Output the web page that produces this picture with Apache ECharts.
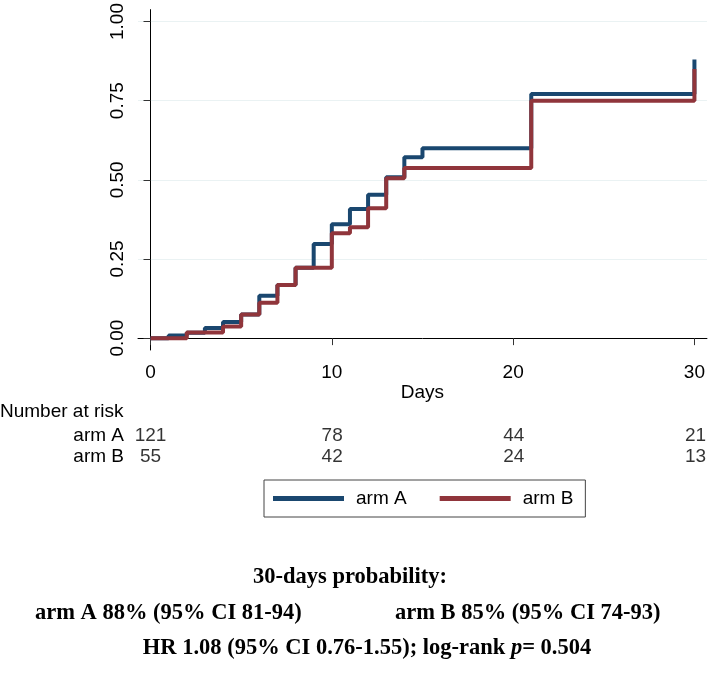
<!DOCTYPE html>
<html><head><meta charset="utf-8">
<script src="https://cdn.jsdelivr.net/npm/echarts@6/dist/echarts.min.js"></script>
<style>html,body{margin:0;padding:0;background:#fff}#c{width:708px;height:681px}</style>
</head><body><div id="c"></div>
<script>
const daysA = [0,1,2,3,4,5,6,7,8,9,10,11,12,13,14,15,21,30];
const probA = [0,0.008,0.017,0.032,0.051,0.075,0.134,0.168,0.222,0.297,0.36,0.408,0.453,0.508,0.571,0.60,0.771,0.88];
const daysB = [0,2,4,5,6,7,8,10,11,12,13,14,21,30];
const probB = [0,0.018,0.037,0.075,0.112,0.168,0.222,0.331,0.35,0.41,0.505,0.537,0.75,0.85];
const xTicks = [0,10,20,30];
const yTicks = [0,0.25,0.5,0.75,1];
const riskTimes = [0,10,20,30];
const riskA = [121,78,44,21];
const riskB = [55,42,24,13];
const armNames = ['arm A','arm B'];
const colA = '#1a476f', colB = '#90353b';
const sans = '"Liberation Sans", Arial, Helvetica, sans-serif';
const serif = '"Liberation Serif", "Times New Roman", serif';
const fs = 19;

const chart = echarts.init(document.getElementById('c'), null, {renderer:'canvas'});
const riskSeries = (name, arm, vals) => ({
  name, type:'scatter', xAxisIndex:1, yAxisIndex:1, symbolSize:1, silent:true,
  itemStyle:{color:'rgba(0,0,0,0)'},
  label:{show:true, position:'inside', color:'#000', fontSize:fs, fontFamily:sans, formatter:p=>String(p.value[2])},
  data: riskTimes.map((t,i)=>[t, arm, vals[i]])
});
chart.setOption({
  animation:false,
  backgroundColor:'#fff',
  grid:[
    {left:138, top:5, width:570, height:345},
    {left:138, top:425, width:570, height:42}
  ],
  xAxis:[
    {type:'value', gridIndex:0, min:-0.69, max:30.69,
     axisLine:{show:true, lineStyle:{color:'#000', width:1}},
     axisTick:{show:true, customValues:xTicks, length:7, lineStyle:{color:'#333'}},
     axisLabel:{customValues:xTicks, fontSize:fs, color:'#000', fontFamily:sans, margin:13},
     splitLine:{show:false},
     name:'Days', nameLocation:'middle', nameGap:33,
     nameTextStyle:{fontSize:fs, color:'#000', fontFamily:sans}},
    {type:'value', gridIndex:1, min:-0.69, max:30.69, show:false}
  ],
  yAxis:[
    {type:'value', gridIndex:0, min:-0.0375, max:1.0375,
     axisLine:{show:true, lineStyle:{color:'#000', width:1}},
     axisTick:{show:true, customValues:yTicks, length:7, lineStyle:{color:'#333'}},
     axisLabel:{customValues:yTicks, rotate:90, fontSize:fs, color:'#000', fontFamily:sans, margin:11,
       formatter:v=>Number(v).toFixed(2)},
     splitLine:{show:true, lineStyle:{color:'#eaf2f3', width:1}}},
    {type:'category', gridIndex:1, data:['arm B','arm A'],
     axisLine:{show:false}, axisTick:{show:false}, splitLine:{show:false},
     axisLabel:{interval:0, fontSize:fs, color:'#000', fontFamily:sans, margin:14}}
  ],
  legend:{
    data:armNames, left:264, top:480, orient:'horizontal',
    borderColor:'#444', borderWidth:1, padding:[9,12,9,9],
    itemWidth:71, itemHeight:5, itemGap:33, icon:'rect',
    textStyle:{fontSize:fs, color:'#000', fontFamily:sans, padding:[0,0,0,7]}
  },
  series:[
    {name:armNames[0], type:'line', step:'end', symbol:'none', color:colA,
     lineStyle:{width:4, color:colA}, data:daysA.map((d,i)=>[d, probA[i]])},
    {name:armNames[1], type:'line', step:'end', symbol:'none', color:colB,
     lineStyle:{width:4, color:colB}, data:daysB.map((d,i)=>[d, probB[i]])},
    riskSeries('riskA', armNames[0], riskA),
    riskSeries('riskB', armNames[1], riskB)
  ],
  graphic:[
    {type:'text', x:0, y:412, style:{text:'Number at risk', fill:'#000', font:fs+'px '+sans, textAlign:'left', textVerticalAlign:'middle'}},
    {type:'text', x:350, y:577, style:{text:'30-days probability:', fill:'#000', font:'bold 22.5px '+serif, textAlign:'center', textVerticalAlign:'middle'}},
    {type:'text', x:35, y:613, style:{text:'arm A 88% (95% CI 81-94)', fill:'#000', font:'bold 22.5px '+serif, textAlign:'left', textVerticalAlign:'middle'}},
    {type:'text', x:395, y:613, style:{text:'arm B 85% (95% CI 74-93)', fill:'#000', font:'bold 22.5px '+serif, textAlign:'left', textVerticalAlign:'middle'}},
    {type:'text', x:367, y:648, style:{
      text:'{b|HR 1.08 (95% CI 0.76-1.55); log-rank }{i|p}{b|= 0.504}',
      textAlign:'center', textVerticalAlign:'middle',
      rich:{b:{fontFamily:serif, fontWeight:'bold', fontSize:22.5, fill:'#000', color:'#000'},
            i:{fontFamily:serif, fontWeight:'bold', fontStyle:'italic', fontSize:22.5, fill:'#000', color:'#000'}}}}
  ]
});
</script></body></html>
